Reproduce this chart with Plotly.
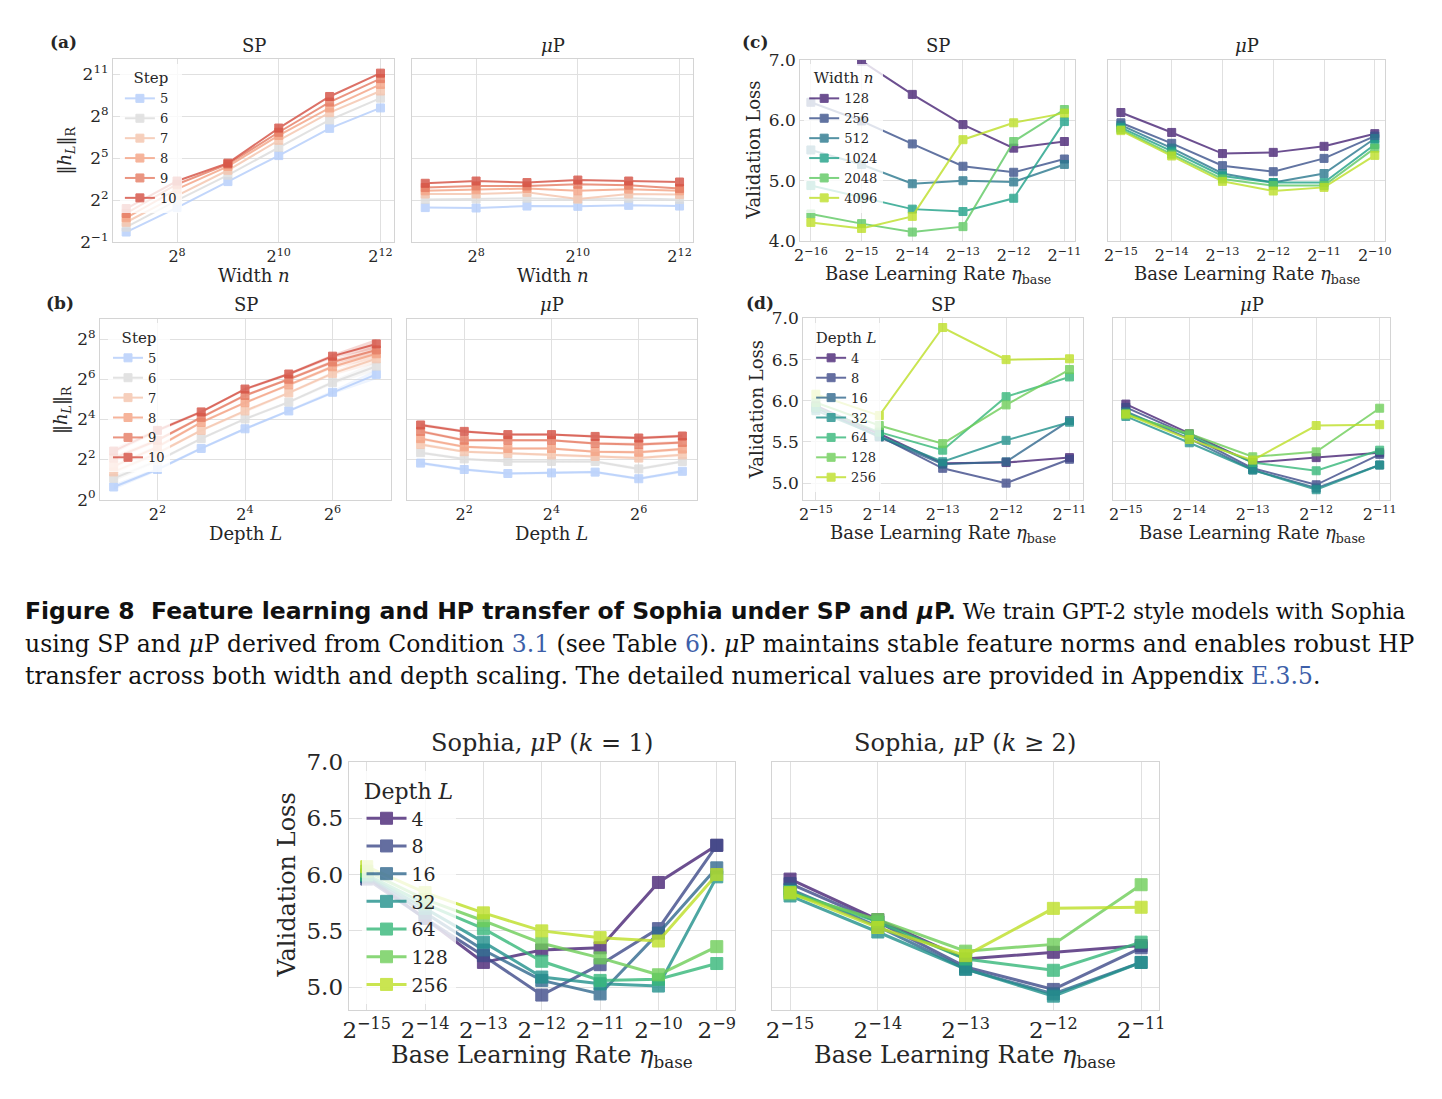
import numpy as np
import plotly.graph_objects as go

W, H = 1442, 1099
FONT = "DejaVu Serif"
TXT = "#262626"
GRID = "#e0e0e0"
FRAME = "#d4d4d4"

# ---------------- data ----------------
step_labels = ["5", "6", "7", "8", "9", "10"]
step_colors = ["#b3cdfb", "#dcdcdc", "#f5c4ac", "#f4a283", "#e67b62", "#d44e41"]

widths = [128, 256, 512, 1024, 2048, 4096]
depths = [2, 4, 8, 16, 32, 64, 128]

# log2 of ||h_L||_R versus width (rows: step 5..10)
a_sp_log2 = [
    [-0.28, 1.47, 3.33, 5.19, 7.14, 8.60],
    [0.07, 1.98, 3.79, 5.77, 7.74, 9.30],
    [0.42, 2.33, 4.14, 6.28, 8.26, 9.81],
    [0.74, 2.79, 4.42, 6.63, 8.60, 10.28],
    [1.05, 3.14, 4.58, 6.86, 9.02, 10.70],
    [1.40, 3.37, 4.65, 7.16, 9.42, 11.09],
]
a_mup_log2 = [
    [1.47, 1.44, 1.58, 1.56, 1.63, 1.58],
    [2.05, 2.09, 2.14, 2.05, 2.14, 2.05],
    [2.44, 2.44, 2.56, 2.09, 2.44, 2.40],
    [2.67, 2.74, 2.84, 2.67, 2.79, 2.67],
    [2.91, 3.02, 3.02, 3.14, 3.07, 2.84],
    [3.21, 3.37, 3.26, 3.44, 3.37, 3.30],
]
# log2 of ||h_L||_R versus depth (rows: step 5..10)
b_sp_log2 = [
    [0.63, 1.50, 2.55, 3.53, 4.42, 5.35, 6.24],
    [1.06, 1.93, 3.04, 4.02, 4.86, 5.84, 6.65],
    [1.38, 2.31, 3.45, 4.42, 5.32, 6.29, 7.02],
    [1.66, 2.63, 3.85, 4.83, 5.72, 6.62, 7.27],
    [2.07, 2.96, 4.10, 5.19, 6.00, 6.86, 7.46],
    [2.42, 3.45, 4.37, 5.51, 6.26, 7.15, 7.76],
]
b_mup_log2 = [
    [1.82, 1.50, 1.30, 1.33, 1.37, 1.04, 1.41],
    [2.34, 2.03, 1.90, 1.90, 1.90, 1.53, 1.90],
    [2.75, 2.39, 2.31, 2.23, 2.15, 2.07, 2.23],
    [3.04, 2.63, 2.55, 2.55, 2.39, 2.36, 2.52],
    [3.40, 2.96, 2.96, 2.96, 2.80, 2.75, 2.85],
    [3.72, 3.40, 3.24, 3.24, 3.15, 3.07, 3.17],
]
# spread (log2 units) of the shaded bands
b_sp_spread = [0.14, 0.09, 0.07, 0.07, 0.07, 0.10, 0.24]
b_mup_spread = [0.08, 0.07, 0.06, 0.06, 0.07, 0.08, 0.08]

width_labels = ["128", "256", "512", "1024", "2048", "4096"]
width_colors = ["#482475", "#3b528b", "#2a788e", "#1fa188", "#5ec962", "#bddf26"]

c_sp_lr_exp = [-16, -15, -14, -13, -12, -11]
c_sp_loss = [
    [None, 6.98, 6.43, 5.93, 5.54, 5.65],
    [6.30, 5.99, 5.61, 5.24, 5.14, 5.36],
    [5.51, 5.27, 4.95, 5.00, 4.98, 5.27],
    [4.92, 4.72, 4.53, 4.49, 4.71, 5.98],
    [4.45, 4.29, 4.15, 4.24, 5.65, 6.18],
    [4.31, 4.21, 4.41, 5.68, 5.96, 6.12],
]
c_mup_lr_exp = [-15, -14, -13, -12, -11, -10]
c_mup_loss = [
    [6.13, 5.80, 5.45, 5.47, 5.57, 5.78],
    [5.96, 5.62, 5.25, 5.15, 5.37, 5.74],
    [5.92, 5.54, 5.12, 4.97, 5.12, 5.70],
    [5.88, 5.49, 5.08, 4.97, 4.97, 5.60],
    [5.85, 5.44, 5.03, 4.92, 4.92, 5.54],
    [5.83, 5.41, 4.99, 4.83, 4.89, 5.42],
]

depth_labels = ["4", "8", "16", "32", "64", "128", "256"]
depth_colors = ["#482475", "#3e4a89", "#31688e", "#21918c", "#35b779", "#6ece58", "#bddf26"]

d_lr_exp = [-15, -14, -13, -12, -11]
d_sp_loss = [
    [5.94, 5.60, 5.24, 5.25, 5.31],
    [5.92, 5.57, 5.18, 5.00, 5.29],
    [5.91, 5.56, 5.23, 5.26, 5.76],
    [5.88, 5.57, 5.26, 5.52, 5.74],
    [5.92, 5.62, 5.40, 6.05, 6.29],
    [5.98, 5.70, 5.48, 5.95, 6.38],
    [6.08, 5.82, 6.89, 6.50, 6.51],
]
d_mup_loss = [
    [5.96, 5.60, 5.25, 5.31, 5.37],
    [5.92, 5.58, 5.18, 4.98, 5.35],
    [5.87, 5.54, 5.16, 4.94, 5.22],
    [5.81, 5.49, 5.16, 4.92, 5.22],
    [5.85, 5.58, 5.25, 5.15, 5.40],
    [5.83, 5.60, 5.32, 5.38, 5.91],
    [5.84, 5.53, 5.28, 5.70, 5.71],
]

k1_lr_exp = [-15, -14, -13, -12, -11, -10, -9]
k1_loss = [
    [5.98, 5.61, 5.22, 5.33, 5.35, 5.93, 6.26],
    [5.96, 5.61, 5.28, 4.93, 5.20, 5.52, 6.26],
    [5.98, 5.66, 5.33, 5.06, 4.94, 5.48, 6.06],
    [5.99, 5.70, 5.40, 5.09, 5.03, 5.01, 5.98],
    [6.00, 5.74, 5.52, 5.23, 5.06, 5.07, 5.21],
    [6.03, 5.78, 5.59, 5.39, 5.26, 5.11, 5.36],
    [6.07, 5.84, 5.66, 5.50, 5.44, 5.41, 6.00],
]
k2_lr_exp = d_lr_exp
k2_loss = d_mup_loss

# ---------------- figure ----------------
fig = go.Figure()


def px_x(x):
    return x / W


def px_y(y):
    return 1 - y / H


def xd(l, r):
    return [px_x(l), px_x(r)]


def yd(t, b):
    return [px_y(b), px_y(t)]


def p2(e):
    s = str(e).replace("-", "\u2212")
    return "2<sup>" + s + "</sup>"


def lg(e):
    return float(np.log10(2.0 ** e))


axes_layout = {}


def add_axes(i, xpx, ypx, xr, xt, yspec, show_y, xfs, yfs):
    xk = "xaxis" if i == 1 else f"xaxis{i}"
    yk = "yaxis" if i == 1 else f"yaxis{i}"
    yref = "y" if i == 1 else f"y{i}"
    xref = "x" if i == 1 else f"x{i}"
    common = dict(showline=True, mirror=True, linecolor=FRAME, linewidth=1,
                  gridcolor=GRID, gridwidth=1, zeroline=False, ticks="")
    axes_layout[xk] = dict(domain=xd(*xpx), anchor=yref, type="log",
                           range=[lg(xr[0]), lg(xr[1])],
                           tickmode="array", tickvals=[2.0 ** e for e in xt],
                           ticktext=[p2(e) for e in xt],
                           tickfont=dict(family=FONT, size=xfs, color=TXT), **common)
    if yspec[0] == "log":
        _, r, t = yspec
        ya = dict(type="log", range=[lg(r[0]), lg(r[1])], tickmode="array",
                  tickvals=[2.0 ** e for e in t], ticktext=[p2(e) for e in t])
    else:
        _, r, t = yspec
        ya = dict(type="linear", range=r, tickmode="array", tickvals=t,
                  ticktext=[f"{v:.1f}" for v in t])
    axes_layout[yk] = dict(domain=yd(*ypx), anchor=xref, showticklabels=show_y,
                           tickfont=dict(family=FONT, size=yfs, color=TXT),
                           **ya, **common)


sx, sy = 16, 17
bx, by = 23, 23
add_axes(1, (107, 391), (47, 234), (6.74, 12.27), [8, 10, 12], ("log", (-1, 12.1), [-1, 2, 5, 8, 11]), True, sx, sy)
add_axes(2, (409, 693), (47, 234), (6.74, 12.27), [8, 10, 12], ("log", (-1, 12.1), [-1, 2, 5, 8, 11]), False, sx, sy)
add_axes(3, (801, 1078), (48, 233), (-16.21, -10.80), c_sp_lr_exp, ("lin", [4, 7], [4, 5, 6, 7]), True, sx, sy)
add_axes(4, (1112, 1392), (48, 233), (-15.25, -9.79), c_mup_lr_exp, ("lin", [4, 7], [4, 5, 6, 7]), False, sx, sy)
add_axes(5, (94, 388), (313, 497), (0.69, 7.34), [2, 4, 6], ("log", (0, 8.98), [0, 2, 4, 6, 8]), True, sx, sy)
add_axes(6, (404, 697), (313, 497), (0.69, 7.34), [2, 4, 6], ("log", (0, 8.98), [0, 2, 4, 6, 8]), False, sx, sy)
add_axes(7, (804, 1087), (312, 497), (-15.2, -10.78), d_lr_exp, ("lin", [4.8, 7.0], [5.0, 5.5, 6.0, 6.5, 7.0]), True, sx, sy)
add_axes(8, (1117, 1397), (312, 497), (-15.2, -10.83), d_lr_exp, ("lin", [4.8, 7.0], [5.0, 5.5, 6.0, 6.5, 7.0]), False, sx, sy)
add_axes(9, (345, 735), (765, 1018), (-15.31, -8.69), k1_lr_exp, ("lin", [4.8, 7.0], [5.0, 5.5, 6.0, 6.5, 7.0]), True, bx, by)
add_axes(10, (773, 1163), (765, 1018), (-15.2, -10.8), k2_lr_exp, ("lin", [4.8, 7.0], [5.0, 5.5, 6.0, 6.5, 7.0]), False, bx, by)


def ax(i):
    return ("x", "y") if i == 1 else (f"x{i}", f"y{i}")


def hex_rgba(h, a):
    h = h.lstrip("#")
    return f"rgba({int(h[0:2], 16)},{int(h[2:4], 16)},{int(h[4:6], 16)},{a})"


def add_band(i, xs, ys_log2, spread, col):
    xa, ya = ax(i)
    up = [2.0 ** (v + s) for v, s in zip(ys_log2, spread)]
    lo = [2.0 ** (v - s) for v, s in zip(ys_log2, spread)]
    fig.add_trace(go.Scatter(x=list(xs) + list(xs)[::-1], y=up + lo[::-1],
                             fill="toself", fillcolor=hex_rgba(col, 0.22),
                             line=dict(width=0), mode="lines", hoverinfo="skip",
                             showlegend=False, xaxis=xa, yaxis=ya))


def add_series(i, xs, ys, labels, colors, legend, showlegend, msize, lw):
    xa, ya = ax(i)
    for lab, col, yv in zip(labels, colors, ys):
        fig.add_trace(go.Scatter(
            x=xs, y=yv, mode="lines+markers", name=lab,
            line=dict(color=col, width=lw),
            marker=dict(symbol="square", size=msize, color=col,
                        line=dict(color=col, width=1)),
            opacity=0.8, xaxis=xa, yaxis=ya, legend=legend,
            showlegend=showlegend, connectgaps=False))


def pow2(rows):
    return [[2.0 ** v for v in r] for r in rows]


# bands for depth panels
for r, c in zip(b_sp_log2, step_colors):
    add_band(5, depths, r, b_sp_spread, c)
for r, c in zip(b_mup_log2, step_colors):
    add_band(6, depths, r, b_mup_spread, c)

add_series(1, widths, pow2(a_sp_log2), step_labels, step_colors, "legend", True, 8, 2)
add_series(2, widths, pow2(a_mup_log2), step_labels, step_colors, "legend", False, 8, 2)
add_series(3, [2.0 ** e for e in c_sp_lr_exp], c_sp_loss, width_labels, width_colors, "legend2", True, 8, 2)
add_series(4, [2.0 ** e for e in c_mup_lr_exp], c_mup_loss, width_labels, width_colors, "legend2", False, 8, 2)
add_series(5, depths, pow2(b_sp_log2), step_labels, step_colors, "legend3", True, 8, 2)
add_series(6, depths, pow2(b_mup_log2), step_labels, step_colors, "legend3", False, 8, 2)
add_series(7, [2.0 ** e for e in d_lr_exp], d_sp_loss, depth_labels, depth_colors, "legend4", True, 8, 2)
add_series(8, [2.0 ** e for e in d_lr_exp], d_mup_loss, depth_labels, depth_colors, "legend4", False, 8, 2)
add_series(9, [2.0 ** e for e in k1_lr_exp], k1_loss, depth_labels, depth_colors, "legend5", True, 12, 3)
add_series(10, [2.0 ** e for e in k2_lr_exp], k2_loss, depth_labels, depth_colors, "legend5", False, 12, 3)


def legend_spec(x, y, title, fs, tfs, iw=30):
    return dict(x=px_x(x), y=px_y(y), xanchor="left", yanchor="top",
                bgcolor="rgba(255,255,255,0.8)", borderwidth=0,
                font=dict(family=FONT, size=fs, color=TXT),
                title=dict(text=title, side="top center",
                           font=dict(family=FONT, size=tfs, color=TXT)),
                itemwidth=iw, tracegroupgap=0)


# annotations
ann = []


def text(x, y, s, size, rot=0, xanchor="center", bold=False, family=FONT):
    ann.append(dict(x=px_x(x), y=px_y(y), xref="paper", yref="paper",
                    text=("<b>" + s + "</b>") if bold else s, showarrow=False,
                    font=dict(family=family, size=size, color=TXT),
                    textangle=rot, xanchor=xanchor, yanchor="middle"))


T = 18
# panel titles
text(249, 33, "SP", T)
text(551, 33, "<i>μ</i>P", T)
text(940, 33, "SP", T)
text(1252, 33, "<i>μ</i>P", T)
text(241, 298, "SP", T)
text(550, 298, "<i>μ</i>P", T)
text(945, 298, "SP", T)
text(1257, 298, "<i>μ</i>P", T)
text(540, 746, "Sophia, <i>μ</i>P (<i>k</i> = 1)", 24)
text(967, 746, "Sophia, <i>μ</i>P (<i>k</i> ≥ 2)", 24)
# panel labels
text(57, 30, "(a)", 17, bold=True)
text(54, 296, "(b)", 17, bold=True)
text(755, 30, "(c)", 17, bold=True)
text(760, 296, "(d)", 17, bold=True)
# x axis titles
text(249, 268, "Width <i>n</i>", T)
text(551, 268, "Width <i>n</i>", T)
text(940, 268, "Base Learning Rate <i>η</i><sub>base</sub>", T)
text(1252, 268, "Base Learning Rate <i>η</i><sub>base</sub>", T)
text(241, 532, "Depth <i>L</i>", T)
text(550, 532, "Depth <i>L</i>", T)
text(945, 532, "Base Learning Rate <i>η</i><sub>base</sub>", T)
text(1257, 532, "Base Learning Rate <i>η</i><sub>base</sub>", T)
text(540, 1066, "Base Learning Rate <i>η</i><sub>base</sub>", 24)
text(967, 1066, "Base Learning Rate <i>η</i><sub>base</sub>", 24)
# y axis titles
text(60, 140, "‖<i>h</i><sub><i>L</i></sub>‖<sub>R</sub>", T, rot=-90)
text(55, 405, "‖<i>h</i><sub><i>L</i></sub>‖<sub>R</sub>", T, rot=-90)
text(753, 140, "Validation Loss", T, rot=-90)
text(757, 405, "Validation Loss", T, rot=-90)
text(283, 891, "Validation Loss", 24, rot=-90)

# caption
BLUE = "#3d5fa9"
cap1 = ("<span style='font-family:DejaVu Sans;font-weight:bold;font-size:23.5px'>Figure 8\u00a0 Feature learning "
        "and HP transfer of Sophia under SP and <i>μ</i>P.</span>"
        "<span style='font-size:21.5px'> We train GPT-2 style models with Sophia</span>")
cap2 = ("using SP and <i>μ</i>P derived from Condition <span style='color:" + BLUE + "'>3.1</span> "
        "(see Table <span style='color:" + BLUE + "'>6</span>). <i>μ</i>P maintains stable feature "
        "norms and enables robust HP")
cap3 = ("transfer across both width and depth scaling. The detailed numerical values are provided "
        "in Appendix <span style='color:" + BLUE + "'>E.3.5</span>.")
for yy, s in [(611, cap1), (644, cap2), (677, cap3)]:
    ann.append(dict(x=px_x(16), y=px_y(yy), xref="paper", yref="paper", text=s,
                    showarrow=False, xanchor="left", yanchor="middle",
                    font=dict(family="DejaVu Serif", size=23.5, color="#111111")))

fig.update_layout(
    width=W, height=H, margin=dict(l=0, r=0, t=0, b=0),
    paper_bgcolor="white", plot_bgcolor="white", showlegend=True,
    annotations=ann,
    legend=legend_spec(114, 52, "Step", 13, 15),
    legend2=legend_spec(805, 52, "Width <i>n</i>", 13, 15),
    legend3=legend_spec(102, 317, "Step", 13, 15),
    legend4=legend_spec(812, 317, "Depth <i>L</i>", 13, 15),
    legend5=legend_spec(358, 774, "Depth <i>L</i>", 19, 22, 40),
    **axes_layout,
)

fig.write_html("out.html")
